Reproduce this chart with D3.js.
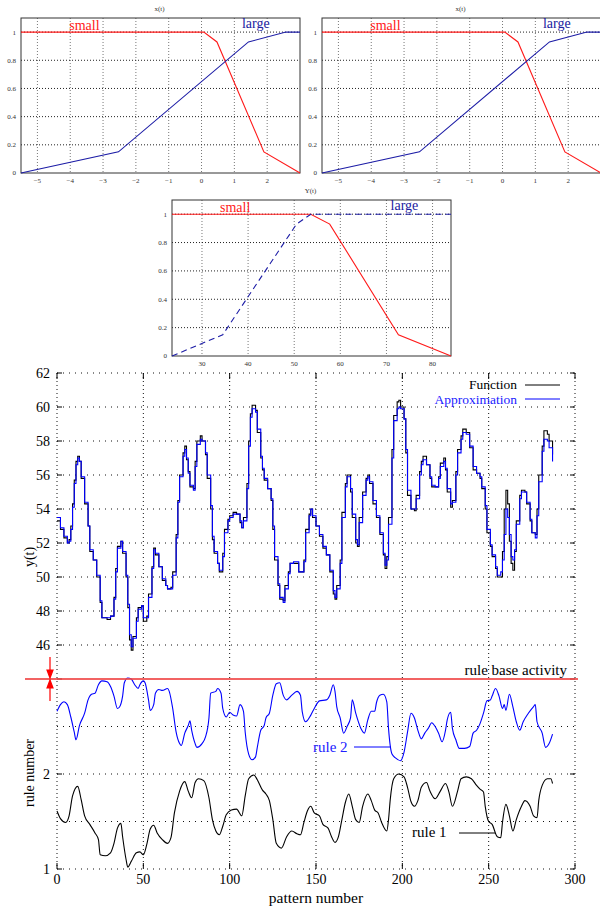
<!DOCTYPE html>
<html>
<head>
<meta charset="utf-8">
<script src="https://cdn.jsdelivr.net/npm/d3@7"></script>
<style>
body { margin: 0; background: #fff; }
svg { display: block; font-family: "Liberation Serif", "Times New Roman", serif; }
</style>
</head>
<body>
<div id="chart"></div>
<script>
// ---------- membership functions of the input x(t) ----------
var xtTicks = [-5, -4, -3, -2, -1, 0, 1, 2];
var xtSmallX = [-5.5, 0.07, 0.47, 1.9, 3.0];
var xtSmallY = [1, 1, 0.93, 0.15, 0];
var xtLargeX = [-5.5, -2.53, 1.43, 2.57, 3.0];
var xtLargeY = [0, 0.15, 0.93, 1, 1];

// ---------- membership functions of the output Y(t) ----------
var ytTicks = [30, 40, 50, 60, 70, 80];
var ytSmallX = [23.5, 53.6, 57.7, 72.6, 84];
var ytSmallY = [1, 1, 0.93, 0.15, 0];
var ytLargeX = [23.5, 34.5, 50.5, 53.6, 84];
var ytLargeY = [0, 0.15, 0.93, 1, 1];

var mfTicks = [0, 0.2, 0.4, 0.6, 0.8, 1];

// ---------- time series: function and its approximation ----------
var patterns = [0, 2, 4, 6, 7, 8, 9, 10, 11, 12, 13, 14, 16, 18, 19, 21, 23, 25, 26, 29,
    31, 33, 34, 35, 37, 38, 40, 41, 42, 43, 44, 46, 47, 49, 50, 52, 53, 55, 56, 57,
    59, 61, 63, 64, 66, 67, 69, 70, 71, 73, 74, 75, 76, 77, 79, 80, 81, 83, 84, 86,
    87, 89, 90, 91, 93, 94, 96, 97, 99, 100, 102, 104, 106, 107, 108, 110, 111, 112, 113, 115,
    116, 118, 119, 120, 122, 124, 125, 126, 128, 129, 131, 132, 134, 135, 137, 140, 143, 144, 146, 147,
    148, 150, 152, 154, 156, 158, 160, 161, 162, 164, 165, 167, 168, 170, 171, 173, 174, 175, 177, 179,
    180, 181, 183, 185, 187, 189, 190, 191, 192, 194, 195, 197, 198, 199, 201, 202, 203, 205, 207, 208,
    210, 211, 212, 214, 216, 217, 219, 221, 222, 224, 225, 226, 228, 229, 231, 232, 234, 235, 237, 239,
    241, 243, 245, 246, 248, 249, 251, 252, 254, 255, 257, 258, 259, 260, 261, 262, 263, 264, 265, 266,
    268, 269, 271, 272, 274, 275, 277, 278, 279, 281, 282, 284, 285, 287];
var funcValues = [53.3, 52.8, 52.3, 52.0, 52.2, 53.0, 54.3, 55.7, 56.8, 57.1, 56.8, 55.8, 54.3, 53.0, 51.5, 51.0, 50.0, 48.5, 47.6, 47.5,
    47.7, 48.8, 50.5, 51.8, 52.1, 51.4, 50.0, 48.2, 46.3, 45.7, 46.5, 47.6, 48.2, 48.3, 47.4, 47.7, 49.0, 50.6, 51.7, 51.3,
    50.6, 49.8, 49.5, 49.3, 49.4, 50.3, 52.5, 54.5, 56.0, 57.3, 57.7, 56.9, 56.2, 55.3, 55.2, 56.8, 58.0, 58.3, 58.0, 57.2,
    55.8, 54.0, 52.2, 51.4, 50.8, 50.3, 51.4, 52.8, 53.4, 53.6, 53.8, 53.7, 53.2, 52.9, 53.5, 55.5, 58.0, 59.6, 60.1, 59.8,
    58.5, 57.0, 56.3, 55.7, 55.2, 54.5, 52.8, 51.0, 49.5, 48.7, 48.6, 49.5, 50.3, 50.8, 50.8, 50.3, 51.0, 52.8, 53.7, 54.0,
    53.5, 53.0, 52.4, 51.7, 51.3, 50.3, 49.0, 48.7, 49.5, 51.0, 53.8, 55.5, 56.0, 55.0, 53.5, 52.0, 51.8, 53.5, 55.0, 55.8,
    56.0, 55.5, 54.3, 53.5, 52.5, 51.3, 50.5, 51.2, 53.5, 57.5, 59.5, 60.3, 60.4, 60.0, 59.3, 57.3, 54.8, 54.0, 53.9, 54.8,
    56.2, 56.8, 57.1, 56.6, 55.8, 55.3, 55.3, 55.9, 56.7, 57.0, 56.3, 55.0, 54.1, 54.5, 56.2, 57.5, 58.3, 58.7, 58.5, 57.6,
    56.3, 56.1, 55.8, 55.2, 54.0, 52.6, 51.8, 51.2, 50.5, 50.0, 50.0, 51.5, 54.0, 55.1, 54.3, 52.1, 50.8, 50.4, 51.5, 53.3,
    54.8, 55.1, 55.0, 54.3, 53.3, 52.6, 52.5, 54.0, 56.0, 57.7, 58.6, 58.4, 58.0, 57.2];
var approxValues = [53.5, 52.9, 52.4, 52.0, 52.1, 52.8, 54.1, 55.5, 56.6, 57.0, 56.8, 55.9, 54.4, 53.0, 51.6, 51.0, 50.1, 48.6, 47.6, 47.6,
    47.7, 48.7, 50.3, 51.7, 52.1, 51.5, 50.1, 48.4, 46.6, 45.9, 46.4, 47.4, 48.1, 48.3, 47.6, 47.6, 48.8, 50.5, 51.6, 51.4,
    50.6, 49.9, 49.5, 49.3, 49.3, 50.1, 52.3, 54.4, 55.9, 57.1, 57.5, 57.0, 56.1, 55.4, 55.1, 56.5, 57.8, 58.1, 58.0, 57.3,
    56.0, 54.2, 52.4, 51.5, 50.8, 50.4, 51.2, 52.6, 53.3, 53.5, 53.7, 53.7, 53.3, 52.9, 53.3, 55.2, 57.7, 59.4, 59.9, 59.7,
    58.7, 57.1, 56.4, 55.8, 55.2, 54.6, 53.0, 51.2, 49.6, 48.8, 48.5, 49.3, 50.2, 50.8, 50.9, 50.3, 50.9, 52.6, 53.6, 54.0,
    53.6, 53.0, 52.5, 51.8, 51.3, 50.4, 49.2, 48.8, 49.3, 50.8, 53.5, 55.3, 55.9, 55.2, 53.7, 52.2, 51.9, 53.2, 54.8, 55.7,
    55.9, 55.6, 54.5, 53.6, 52.6, 51.4, 50.7, 51.0, 53.1, 57.0, 59.2, 59.9, 60.0, 59.9, 59.3, 57.5, 55.1, 54.0, 54.0, 54.6,
    56.0, 56.6, 56.9, 56.6, 55.9, 55.4, 55.3, 55.8, 56.5, 56.8, 56.4, 55.2, 54.3, 54.4, 56.0, 57.3, 58.1, 58.5, 58.4, 57.7,
    56.5, 56.1, 55.9, 55.3, 54.2, 52.8, 51.9, 51.3, 50.6, 50.1, 50.3, 51.0, 52.5, 54.0, 53.5, 52.5, 51.2, 51.0, 51.6, 53.1,
    54.6, 55.0, 55.0, 54.4, 53.4, 52.6, 52.3, 53.6, 55.6, 57.4, 58.1, 58.0, 57.6, 56.8];

// ---------- rule activity (rule 1 in [1,2], rule 2 in [2,3]) ----------
var rule1Patterns = [0, 2, 5, 7, 9, 12, 14, 16, 19, 22, 24, 25, 28, 31, 33, 35, 37, 38, 40, 41,
    43, 46, 48, 50, 52, 54, 56, 58, 61, 64, 66, 68, 71, 74, 76, 78, 80, 82, 85, 88,
    90, 92, 94, 96, 98, 101, 104, 107, 109, 111, 114, 116, 119, 121, 123, 125, 127, 130, 133, 136,
    139, 141, 143, 145, 147, 149, 152, 154, 157, 159, 161, 163, 165, 167, 169, 171, 173, 175, 177, 180,
    182, 184, 186, 188, 191, 192, 193, 195, 198, 201, 203, 205, 207, 209, 211, 214, 216, 219, 222, 225,
    227, 229, 232, 234, 237, 240, 243, 245, 247, 248, 250, 252, 255, 257, 258, 260, 262, 264, 266, 269,
    271, 274, 276, 278, 279, 281, 284, 286, 287];
var rule1Values = [1.61, 1.53, 1.49, 1.56, 1.77, 1.87, 1.73, 1.56, 1.47, 1.38, 1.31, 1.15, 1.14, 1.17, 1.27, 1.43, 1.48, 1.34, 1.10, 1.02,
    1.08, 1.17, 1.18, 1.15, 1.26, 1.42, 1.46, 1.38, 1.31, 1.27, 1.33, 1.59, 1.82, 1.92, 1.82, 1.75, 1.91, 1.95, 1.93, 1.75,
    1.52, 1.40, 1.36, 1.45, 1.57, 1.62, 1.63, 1.56, 1.77, 1.95, 1.99, 1.94, 1.83, 1.79, 1.72, 1.52, 1.27, 1.22, 1.34, 1.40,
    1.37, 1.36, 1.49, 1.61, 1.66, 1.59, 1.56, 1.47, 1.43, 1.34, 1.28, 1.34, 1.52, 1.70, 1.79, 1.66, 1.52, 1.49, 1.66, 1.79,
    1.72, 1.62, 1.59, 1.49, 1.40, 1.52, 1.73, 1.95, 2.00, 1.97, 1.86, 1.71, 1.66, 1.72, 1.86, 1.91, 1.82, 1.74, 1.82, 1.90,
    1.81, 1.66, 1.82, 1.95, 1.97, 1.95, 1.88, 1.84, 1.81, 1.66, 1.50, 1.47, 1.34, 1.33, 1.49, 1.68, 1.56, 1.40, 1.52, 1.66,
    1.72, 1.66, 1.56, 1.54, 1.72, 1.88, 1.95, 1.95, 1.90];
var rule2Patterns = [0, 2, 4, 6, 8, 10, 11, 13, 16, 18, 20, 22, 24, 26, 29, 31, 33, 35, 36, 38,
    39, 41, 43, 45, 47, 48, 50, 51, 53, 54, 56, 57, 59, 61, 64, 65, 67, 69, 71, 72,
    74, 76, 77, 78, 80, 81, 84, 86, 88, 89, 92, 93, 95, 96, 98, 100, 102, 104, 106, 108,
    109, 111, 113, 115, 116, 118, 120, 121, 123, 125, 127, 129, 131, 133, 136, 139, 141, 142, 144, 147,
    149, 152, 156, 158, 160, 161, 162, 164, 166, 168, 170, 171, 173, 176, 178, 180, 182, 184, 185, 187,
    189, 191, 192, 194, 196, 199, 201, 203, 205, 207, 209, 211, 213, 215, 217, 219, 221, 223, 225, 226,
    228, 229, 231, 233, 236, 239, 241, 243, 245, 247, 249, 251, 252, 254, 256, 258, 259, 260, 262, 264,
    266, 268, 270, 273, 276, 277, 278, 281, 283, 285, 287];
var rule2Values = [2.66, 2.73, 2.76, 2.73, 2.60, 2.44, 2.36, 2.51, 2.64, 2.78, 2.84, 2.85, 2.94, 2.98, 2.97, 2.92, 2.82, 2.69, 2.70, 2.82,
    2.96, 3.01, 3.00, 2.94, 2.90, 2.94, 2.98, 2.96, 2.78, 2.67, 2.73, 2.85, 2.89, 2.88, 2.90, 2.87, 2.69, 2.44, 2.32, 2.30,
    2.43, 2.51, 2.56, 2.46, 2.32, 2.28, 2.32, 2.39, 2.59, 2.85, 2.87, 2.90, 2.85, 2.69, 2.60, 2.65, 2.62, 2.61, 2.73, 2.66,
    2.44, 2.21, 2.15, 2.18, 2.28, 2.46, 2.51, 2.59, 2.64, 2.83, 2.95, 2.96, 2.83, 2.78, 2.83, 2.87, 2.83, 2.66, 2.55, 2.62,
    2.69, 2.77, 2.78, 2.83, 2.94, 2.87, 2.71, 2.59, 2.43, 2.50, 2.59, 2.78, 2.64, 2.48, 2.43, 2.57, 2.66, 2.66, 2.75, 2.83,
    2.84, 2.76, 2.48, 2.21, 2.17, 2.14, 2.23, 2.44, 2.64, 2.59, 2.46, 2.37, 2.43, 2.48, 2.54, 2.50, 2.43, 2.34, 2.46, 2.57,
    2.65, 2.48, 2.36, 2.27, 2.27, 2.29, 2.43, 2.46, 2.53, 2.64, 2.77, 2.78, 2.82, 2.90, 2.82, 2.69, 2.73, 2.67, 2.84, 2.71,
    2.55, 2.46, 2.55, 2.64, 2.71, 2.73, 2.55, 2.43, 2.28, 2.32, 2.42];

var yTicks = [46, 48, 50, 52, 54, 56, 58, 60, 62];
var ruleGrid = [1, 1.5, 2, 2.5];
var ruleLabels = [1, 2];
var patternTicks = [0, 50, 100, 150, 200, 250, 300];

var svg = d3.select("#chart").append("svg")
    .attr("width", 600)
    .attr("height", 909);

function pairs(xs, ys) {
    return xs.map(function(d, i) { return [d, ys[i]]; });
}

/**
 * draws one membership function panel
 */
function drawMembership(left, top, width, height, xDomain, xTicks, title, small, large, dashed, smallAt, largeAt) {
    var g = svg.append("g");
    var x = d3.scaleLinear().domain(xDomain).range([left, left + width]);
    var y = d3.scaleLinear().domain([0, 1.1]).range([top + height, top]);

    g.append("text")
        .attr("x", left + width / 2 - 1)
        .attr("y", top - 7)
        .attr("text-anchor", "middle")
        .style("font-size", "7px")
        .attr("fill", "#333")
        .text(title);

    // grid
    g.selectAll(".vg").data(xTicks).enter().append("line")
        .attr("x1", function(d) { return x(d); }).attr("x2", function(d) { return x(d); })
        .attr("y1", top).attr("y2", top + height)
        .attr("stroke", "#777").attr("stroke-dasharray", "1,2");
    g.selectAll(".hg").data(mfTicks.slice(1)).enter().append("line")
        .attr("x1", left).attr("x2", left + width)
        .attr("y1", function(d) { return y(d); }).attr("y2", function(d) { return y(d); })
        .attr("stroke", "#222").attr("stroke-dasharray", "1,2");

    g.append("rect")
        .attr("x", left).attr("y", top)
        .attr("width", width).attr("height", height)
        .attr("fill", "none").attr("stroke", "#333").attr("stroke-width", 1);

    g.selectAll(".yl").data(mfTicks).enter().append("text")
        .attr("x", left - 5)
        .attr("y", function(d) { return y(d); })
        .attr("dy", "0.35em")
        .attr("text-anchor", "end")
        .style("font-size", "7px")
        .attr("fill", "#333")
        .text(function(d) { return d; });
    g.selectAll(".xl").data(xTicks).enter().append("text")
        .attr("x", function(d) { return x(d); })
        .attr("y", top + height + 10)
        .attr("text-anchor", "middle")
        .style("font-size", "7px")
        .attr("fill", "#333")
        .text(function(d) { return d < 0 ? "\u2212" + (-d) : d; });

    var line = d3.line()
        .x(function(d) { return x(d[0]); })
        .y(function(d) { return y(d[1]); });

    g.append("path")
        .attr("d", line(small))
        .attr("fill", "none").attr("stroke", "#ff1a1a").attr("stroke-width", 1.1);
    g.append("path")
        .attr("d", line(large))
        .attr("fill", "none").attr("stroke", "#1c1ca6").attr("stroke-width", 1.1)
        .attr("stroke-dasharray", dashed ? "6,4" : null);

    g.append("text")
        .attr("x", x(smallAt)).attr("y", top + 12)
        .style("font-size", "14px").attr("fill", "#ff2020")
        .text("small");
    g.append("text")
        .attr("x", x(largeAt)).attr("y", top + 10)
        .style("font-size", "14px").attr("fill", "#2020a0")
        .text("large");
}

drawMembership(21, 18, 279, 155, [-5.5, 3], xtTicks, "x(t)",
    pairs(xtSmallX, xtSmallY), pairs(xtLargeX, xtLargeY), false, -4.03, 1.23);
drawMembership(322, 18, 279, 155, [-5.5, 3], xtTicks, "x(t)",
    pairs(xtSmallX, xtSmallY), pairs(xtLargeX, xtLargeY), false, -4.03, 1.23);
drawMembership(172, 200, 279, 156, [23.5, 84], ytTicks, "Y(t)",
    pairs(ytSmallX, ytSmallY), pairs(ytLargeX, ytLargeY), true, 33.9, 70.9);

// ---------- main plot ----------
var x = d3.scaleLinear().domain([0, 300]).range([57, 575]);
var yTop = d3.scaleLinear().domain([44, 62]).range([679, 373]);
var yRule = d3.scaleLinear().domain([1, 3]).range([869, 679]);

var main = svg.append("g");

// grid
main.selectAll(".vgrid").data(patternTicks).enter().append("line")
    .attr("x1", function(d) { return x(d); }).attr("x2", function(d) { return x(d); })
    .attr("y1", 373).attr("y2", 869)
    .attr("stroke", "#111").attr("stroke-dasharray", "1,3");
main.selectAll(".hgrid").data(yTicks).enter().append("line")
    .attr("x1", 57).attr("x2", 575)
    .attr("y1", function(d) { return yTop(d); }).attr("y2", function(d) { return yTop(d); })
    .attr("stroke", "#111").attr("stroke-dasharray", "1,5");
main.selectAll(".rgrid").data(ruleGrid).enter().append("line")
    .attr("x1", 57).attr("x2", 575)
    .attr("y1", function(d) { return yRule(d); }).attr("y2", function(d) { return yRule(d); })
    .attr("stroke", "#111").attr("stroke-dasharray", "1,5");

// small solid ticks
var tickYs = yTicks.map(function(d) { return yTop(d); }).concat([yRule(1), yRule(2), yRule(3)]);
main.selectAll(".lt").data(tickYs).enter().append("line")
    .attr("x1", 57).attr("x2", 62)
    .attr("y1", function(d) { return d; }).attr("y2", function(d) { return d; })
    .attr("stroke", "#000");
main.selectAll(".rt").data(tickYs).enter().append("line")
    .attr("x1", 570).attr("x2", 575)
    .attr("y1", function(d) { return d; }).attr("y2", function(d) { return d; })
    .attr("stroke", "#000");
main.selectAll(".bt").data(patternTicks).enter().append("line")
    .attr("x1", function(d) { return x(d); }).attr("x2", function(d) { return x(d); })
    .attr("y1", 869).attr("y2", 863)
    .attr("stroke", "#000");
main.selectAll(".tt").data(patternTicks).enter().append("line")
    .attr("x1", function(d) { return x(d); }).attr("x2", function(d) { return x(d); })
    .attr("y1", 373).attr("y2", 379)
    .attr("stroke", "#000");

// tick labels
main.selectAll(".yl").data(yTicks).enter().append("text")
    .attr("x", 50)
    .attr("y", function(d) { return yTop(d); })
    .attr("dy", "0.35em")
    .attr("text-anchor", "end")
    .style("font-size", "14px")
    .text(function(d) { return d; });
main.selectAll(".rl").data(ruleLabels).enter().append("text")
    .attr("x", 50)
    .attr("y", function(d) { return yRule(d); })
    .attr("dy", "0.35em")
    .attr("text-anchor", "end")
    .style("font-size", "14px")
    .text(function(d) { return d; });
main.selectAll(".xl").data(patternTicks).enter().append("text")
    .attr("x", function(d) { return x(d); })
    .attr("y", 884)
    .attr("text-anchor", "middle")
    .style("font-size", "14px")
    .text(function(d) { return d; });

main.append("text")
    .attr("transform", "translate(34,557) rotate(-90)")
    .attr("text-anchor", "middle")
    .style("font-size", "14px")
    .text("y(t)");
main.append("text")
    .attr("transform", "translate(34,773) rotate(-90)")
    .attr("text-anchor", "middle")
    .style("font-size", "14px")
    .text("rule number");
main.append("text")
    .attr("x", 316).attr("y", 903)
    .attr("text-anchor", "middle")
    .style("font-size", "15.5px")
    .text("pattern number");

// series
var step = d3.line()
    .curve(d3.curveStepAfter)
    .x(function(d) { return x(d[0]); })
    .y(function(d) { return yTop(d[1]); });

main.append("path")
    .attr("d", step(pairs(patterns, funcValues)))
    .attr("fill", "none").attr("stroke", "#000").attr("stroke-width", 1.1);
main.append("path")
    .attr("d", step(pairs(patterns, approxValues)))
    .attr("fill", "none").attr("stroke", "#0000ff").attr("stroke-width", 1.1);

var smooth = d3.line()
    .curve(d3.curveMonotoneX)
    .x(function(d) { return x(d[0]); })
    .y(function(d) { return yRule(d[1]); });

main.append("path")
    .attr("d", smooth(pairs(rule2Patterns, rule2Values)))
    .attr("fill", "none").attr("stroke", "#0000ff").attr("stroke-width", 1.1);
main.append("path")
    .attr("d", smooth(pairs(rule1Patterns, rule1Values)))
    .attr("fill", "none").attr("stroke", "#000").attr("stroke-width", 1.1);

// rule base activity line and arrows
main.append("line")
    .attr("x1", 25).attr("x2", 578)
    .attr("y1", yRule(3)).attr("y2", yRule(3))
    .attr("stroke", "#f04848").attr("stroke-width", 2).attr("opacity", 0.85);
main.append("path")
    .attr("d", "M50,657 L50,676 M47,670 L50,678 L53,670 Z M50,701 L50,682 M47,688 L50,680 L53,688 Z")
    .attr("stroke", "#ff0000").attr("fill", "#ff0000").attr("stroke-width", 1.2);
main.append("text")
    .attr("x", 567).attr("y", 675)
    .attr("text-anchor", "end")
    .style("font-size", "15px")
    .text("rule base activity");

// legend
main.append("text")
    .attr("x", 517).attr("y", 389)
    .attr("text-anchor", "end")
    .style("font-size", "13.5px")
    .text("Function");
main.append("line")
    .attr("x1", 525).attr("x2", 560).attr("y1", 385).attr("y2", 385)
    .attr("stroke", "#000");
main.append("text")
    .attr("x", 517).attr("y", 404)
    .attr("text-anchor", "end")
    .style("font-size", "13.5px")
    .attr("fill", "#2020ff")
    .text("Approximation");
main.append("line")
    .attr("x1", 525).attr("x2", 560).attr("y1", 399).attr("y2", 399)
    .attr("stroke", "#0000ff");

// curve labels
main.append("text")
    .attr("x", 313).attr("y", 752)
    .style("font-size", "15px")
    .attr("fill", "#2020ff")
    .text("rule 2");
main.append("line")
    .attr("x1", 354).attr("x2", 391).attr("y1", 747).attr("y2", 747)
    .attr("stroke", "#0000ff");
main.append("text")
    .attr("x", 412).attr("y", 837)
    .style("font-size", "15px")
    .text("rule 1");
main.append("line")
    .attr("x1", 459).attr("x2", 495).attr("y1", 833).attr("y2", 833)
    .attr("stroke", "#000");
</script>
</body>
</html>
